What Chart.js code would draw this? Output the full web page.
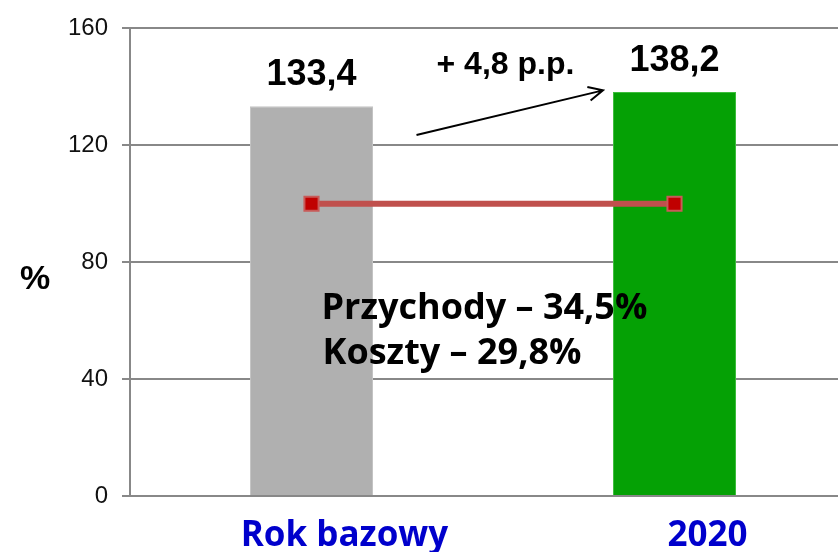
<!DOCTYPE html>
<html>
<head>
<meta charset="utf-8">
<script src="https://cdn.jsdelivr.net/npm/chart.js@4"></script>
<style>
    html, body { margin: 0; padding: 0; background: #fff; overflow: hidden; }
    #wrap { width: 870px; height: 552px; }
</style>
</head>
<body>
<div id="wrap"><canvas id="chart" width="870" height="552"></canvas></div>
<script>
var categories = ['Rok bazowy', '2020'];
var indexValues = [133.4, 138.2];
var baseLevel = [100, 100];
var valueLabels = ['133,4', '138,2'];
var yTicks = [0, 40, 80, 120, 160];
var changeLabel = '+ 4,8 p.p.';
var noteLines = ['Przychody \u2013 34,5%', 'Koszty \u2013 29,8%'];

var calibriLike = '"Open Sans", "Noto Sans", sans-serif';
var arialLike = '"Liberation Sans", Arial, sans-serif';

// texts and arrow drawn on top of the chart
var annotations = {
    id: 'annotations',
    afterDatasetsDraw: function (chart) {
        var ctx = chart.ctx;
        var yScale = chart.scales.y;
        var bars = chart.getDatasetMeta(0).data;

        ctx.save();
        ctx.fillStyle = '#000';
        ctx.textBaseline = 'alphabetic';

        // value labels above the bars
        ctx.font = 'bold 36px ' + arialLike;
        ctx.textAlign = 'center';
        bars.forEach(function (bar, i) {
            ctx.fillText(valueLabels[i], bar.x, bar.y - 21);
        });

        // "%" axis label
        ctx.font = 'bold 34px ' + arialLike;
        ctx.fillText('%', 35, 289);

        // change label and arrow
        var b1 = bars[0], b2 = bars[1];
        ctx.font = 'bold 32px ' + arialLike;
        ctx.textAlign = 'left';
        ctx.fillText(changeLabel, b1.x + 125, yScale.getPixelForValue(144.5));

        var x1 = b1.x + 105, y1 = yScale.getPixelForValue(123.5);
        var x2 = b2.x - b2.width / 2 - 10, y2 = yScale.getPixelForValue(138.8);
        var ang = Math.atan2(y2 - y1, x2 - x1);
        ctx.strokeStyle = '#000';
        ctx.lineWidth = 2;
        ctx.beginPath();
        ctx.moveTo(x1, y1);
        ctx.lineTo(x2, y2);
        ctx.moveTo(x2 - 16 * Math.cos(ang - 0.45), y2 - 16 * Math.sin(ang - 0.45));
        ctx.lineTo(x2, y2);
        ctx.lineTo(x2 - 16 * Math.cos(ang + 0.45), y2 - 16 * Math.sin(ang + 0.45));
        ctx.stroke();

        // note in the middle
        ctx.font = 'bold 36px ' + calibriLike;
        ctx.fillText(noteLines[0], b1.x + 10, yScale.getPixelForValue(60.5));
        ctx.fillText(noteLines[1], b1.x + 11, yScale.getPixelForValue(45.2));

        ctx.restore();
    }
};

var ctx = document.getElementById('chart').getContext('2d');
var chart = new Chart(ctx, {
    type: 'bar',
    data: {
        labels: categories,
        datasets: [{
            label: 'Wskaźnik',
            data: indexValues,
            backgroundColor: ['rgb(176, 176, 176)', 'rgb(5, 161, 5)'],
            borderColor: ['rgb(196, 196, 196)', 'rgb(60, 190, 60)'],
            borderWidth: 1,
            barPercentage: 0.339,
            categoryPercentage: 1,
            order: 1
        }, {
            label: 'Poziom bazowy',
            data: baseLevel,
            type: 'line',
            borderColor: 'rgb(192, 80, 77)',
            borderWidth: 6,
            pointStyle: 'rect',
            pointRadius: 10,
            pointHoverRadius: 10,
            pointBackgroundColor: 'rgb(192, 0, 0)',
            pointBorderColor: 'rgb(200, 90, 88)',
            pointBorderWidth: 2,
            order: 0
        }]
    },
    options: {
        responsive: false,
        animation: false,
        layout: {
            padding: { top: 26, right: 14, left: 0, bottom: 0 }
        },
        scales: {
            x: {
                grid: { display: false, drawTicks: false },
                border: { display: false },
                ticks: {
                    color: 'rgb(0, 0, 204)',
                    font: { family: calibriLike, size: 35, weight: 'bold' },
                    padding: 19,
                    labelOffset: 33
                },
                afterFit: function (scale) { scale.height = 56; }
            },
            y: {
                min: 0,
                max: 160,
                afterBuildTicks: function (scale) {
                    scale.ticks = yTicks.map(function (v) { return { value: v }; });
                },
                grid: {
                    color: 'rgb(136, 136, 136)',
                    lineWidth: 2,
                    tickLength: 8
                },
                border: { color: 'rgb(136, 136, 136)', width: 2 },
                ticks: {
                    color: '#111',
                    font: { family: arialLike, size: 24 },
                    padding: 14
                },
                afterFit: function (scale) { scale.width = 130; }
            }
        },
        plugins: {
            legend: { display: false },
            tooltip: { enabled: false }
        }
    },
    plugins: [annotations]
});
</script>
</body>
</html>
